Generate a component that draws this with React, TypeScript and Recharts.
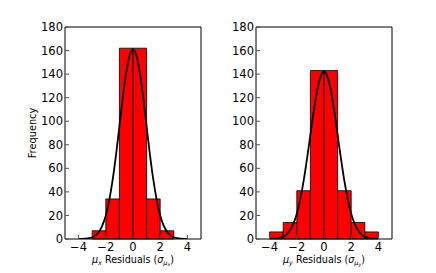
import React from 'react';
import {
  ComposedChart,
  Line,
  XAxis,
  YAxis,
  ReferenceArea,
  Label,
} from 'recharts';

// ---- data ----
const xTicks = [-4, -2, 0, 2, 4];
const yTicks = [0, 20, 40, 60, 80, 100, 120, 140, 160, 180];

// left panel (mu_x) histogram
const leftEdges = [-3, -2, -1, 0, 1, 2, 3];
const leftCounts = [7, 34, 162, 162, 34, 7];

// right panel (mu_y) histogram
const rightEdges = [-4, -3, -2, -1, 0, 1, 2, 3, 4];
const rightCounts = [6, 14, 41, 143, 143, 41, 14, 6];

// fitted curves
const curveX = [
  -4, -3.75, -3.5, -3.25, -3, -2.75, -2.5, -2.25, -2, -1.75, -1.5, -1.25, -1, -0.75, -0.5, -0.25,
  0, 0.25, 0.5, 0.75, 1, 1.25, 1.5, 1.75, 2, 2.25, 2.5, 2.75, 3, 3.25, 3.5, 3.75, 4,
];
const leftCurve = [
  0, 0.1, 0.3, 0.7, 1.5, 3.1, 6.2, 11.5, 20, 32.7, 49.9, 71.3, 95.6, 120.1, 141.3, 155.8,
  161, 155.8, 141.3, 120.1, 95.6, 71.3, 49.9, 32.7, 20, 11.5, 6.2, 3.1, 1.5, 0.7, 0.3, 0.1, 0,
];
const rightCurve = [
  0.1, 0.2, 0.4, 1.0, 2.0, 4.0, 7.4, 13, 21.5, 33.5, 49.1, 68, 88.6, 108.9, 126.2, 137.9,
  142, 137.9, 126.2, 108.9, 88.6, 68, 49.1, 33.5, 21.5, 13, 7.4, 4.0, 2.0, 1.0, 0.4, 0.2, 0.1,
];

const FONT = '"DejaVu Sans", sans-serif';

const XLabelContent = (sub: string) => (props: any) => {
  const vb = props.viewBox || {};
  const cx = vb.x + vb.width / 2;
  return (
    <text
      x={cx}
      y={vb.y + 23.5}
      textAnchor="middle"
      fontFamily={FONT}
      fontSize={9.6}
      fill="#000"
      style={{ whiteSpace: 'pre' }}
    >
      <tspan fontStyle="italic">μ</tspan>
      <tspan fontStyle="italic" fontSize={6.5} dy={2}>{sub}</tspan>
      <tspan dy={-2}>{' Residuals ('}</tspan>
      <tspan fontStyle="italic">σ</tspan>
      <tspan fontStyle="italic" fontSize={6.5} dy={2}>μ</tspan>
      <tspan fontStyle="italic" fontSize={4.8} dy={1.5}>{sub}</tspan>
      <tspan dy={-3.5}>)</tspan>
    </text>
  );
};

const YLabelContent = (props: any) => {
  const vb = props.viewBox || {};
  const x = vb.x + 17;
  const y = vb.y + vb.height / 2;
  return (
    <text
      x={x}
      y={y}
      textAnchor="middle"
      dominantBaseline="central"
      transform={`rotate(-90, ${x}, ${y})`}
      fontFamily={FONT}
      fontSize={9.8}
      fill="#000"
    >
      Frequency
    </text>
  );
};

type PanelProps = {
  left: number;
  width: number;
  margin: { top: number; right: number; bottom: number; left: number };
  yWidth: number;
  edges: number[];
  counts: number[];
  curve: number[];
  sub: string;
  showYLabel: boolean;
};

const Panel = ({ left, width, margin, yWidth, edges, counts, curve, sub, showYLabel }: PanelProps) => {
  const data = curveX.map((x, i) => ({ x, y: curve[i] }));
  const tickStyle = { fontFamily: FONT, fontSize: 11.5, fill: '#000' };
  return (
    <div style={{ position: 'absolute', left, top: 0 }}>
      <ComposedChart width={width} height={273} data={data} margin={margin}>
        <XAxis
          dataKey="x"
          type="number"
          domain={[-5, 5]}
          ticks={xTicks}
          tickFormatter={(v: number) => (v < 0 ? '\u2212' + Math.abs(v) : String(v))}
          tick={tickStyle}
          tickSize={-4}
          tickMargin={8}
          tickLine={{ stroke: '#555' }}
          axisLine={{ stroke: '#000' }}
          height={34}
          allowDataOverflow
        >
          <Label content={XLabelContent(sub)} />
        </XAxis>
        <XAxis
          xAxisId="top"
          orientation="top"
          type="number"
          domain={[-5, 5]}
          ticks={xTicks}
          tick={false}
          tickSize={-4}
          tickLine={{ stroke: '#555' }}
          axisLine={{ stroke: '#000' }}
          height={4}
          allowDataOverflow
        />
        <YAxis
          type="number"
          domain={[0, 180]}
          ticks={yTicks}
          tick={tickStyle}
          tickSize={-4}
          tickMargin={6}
          tickLine={{ stroke: '#555' }}
          axisLine={{ stroke: '#000' }}
          width={yWidth}
          allowDataOverflow
        >
          {showYLabel ? <Label content={YLabelContent} /> : null}
        </YAxis>
        <YAxis
          yAxisId="r"
          orientation="right"
          type="number"
          domain={[0, 180]}
          ticks={yTicks}
          tick={false}
          tickSize={-4}
          tickLine={{ stroke: '#555' }}
          axisLine={{ stroke: '#000' }}
          width={4}
          allowDataOverflow
        />
        {counts.map((c, i) => (
          <ReferenceArea
            key={i}
            x1={edges[i]}
            x2={edges[i + 1]}
            y1={0}
            y2={c}
            fill="#ff0000"
            fillOpacity={1}
            stroke="#000"
            strokeWidth={0.8}
            isFront={false}
          />
        ))}
        <Line
          dataKey="y"
          type="monotone"
          stroke="#000"
          strokeWidth={1.8}
          dot={false}
          activeDot={false}
          isAnimationActive={false}
        />
      </ComposedChart>
    </div>
  );
};

export default function App() {
  return (
    <div
      style={{
        position: 'fixed',
        left: 0,
        top: 0,
        width: 436,
        height: 273,
        background: '#fff',
        overflow: 'hidden',
      }}
    >
      <Panel
        left={0}
        width={215}
        margin={{ top: 23, right: 10, bottom: 0, left: 15 }}
        yWidth={50}
        edges={leftEdges}
        counts={leftCounts}
        curve={leftCurve}
        sub="x"
        showYLabel
      />
      <Panel
        left={215}
        width={221}
        margin={{ top: 23, right: 40, bottom: 0, left: 5 }}
        yWidth={36}
        edges={rightEdges}
        counts={rightCounts}
        curve={rightCurve}
        sub="y"
        showYLabel={false}
      />
    </div>
  );
}
